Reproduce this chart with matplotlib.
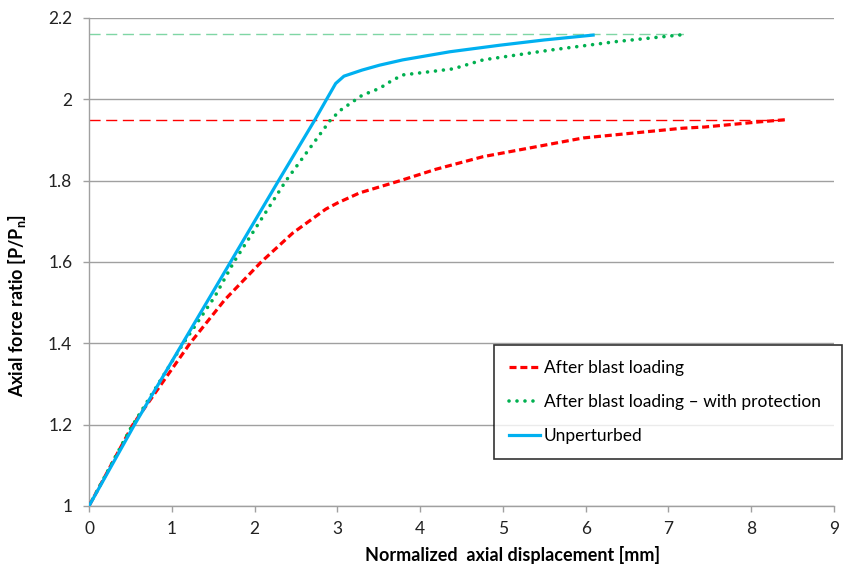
import matplotlib
matplotlib.use('Agg')
import matplotlib.pyplot as plt

# series
red_x = [0, 0.53, 1.22, 1.64, 2.08, 2.46, 2.86, 3.0, 3.27, 3.76, 4.19, 4.76, 5.97, 7.17, 7.44, 8.12, 8.42]
red_y = [1, 1.20, 1.40, 1.507, 1.60, 1.671, 1.730, 1.745, 1.770, 1.80, 1.828, 1.859, 1.905, 1.929, 1.932, 1.945, 1.95]

green_x = [0, 0.5, 1.14, 1.52, 1.75, 2.38, 2.92, 3.05, 3.30, 3.51, 3.65, 3.79, 4.04, 4.4, 4.76, 5.57, 6.37, 7.22]
green_y = [1, 1.19, 1.40, 1.515, 1.60, 1.80, 1.95, 1.975, 2.01, 2.027, 2.045, 2.06, 2.066, 2.075, 2.097, 2.121, 2.142, 2.16]

blue_x = [0, 0.55, 1.13, 1.71, 2.29, 2.73, 2.87, 2.98, 3.08, 3.3, 3.51, 3.79, 4.36, 4.96, 5.5, 6.09]
blue_y = [1, 1.20, 1.40, 1.60, 1.80, 1.95, 2.0, 2.039, 2.057, 2.072, 2.084, 2.097, 2.117, 2.133, 2.146, 2.158]

labels = ['After blast loading', 'After blast loading \u2013 with protection', 'Unperturbed']

plt.rcParams['font.family'] = ['Lato', 'DejaVu Sans']
plt.rcParams['mathtext.fontset'] = 'custom'
plt.rcParams['mathtext.bf'] = 'Lato:bold'
plt.rcParams['mathtext.rm'] = 'Lato'

fig = plt.figure(figsize=(8.46, 5.70), dpi=100)
ax = fig.add_axes([89/846, 64/570, 745/846, 488/570])

# reference lines at the peak of two curves
ax.plot([0, green_x[-1]], [green_y[-1], green_y[-1]], color='#7FD6A4', lw=1.0,
        dashes=(8, 4), zorder=2)
ax.plot([0, red_x[-1]], [red_y[-1], red_y[-1]], color='#FF0000', lw=1.0,
        dashes=(8, 4), zorder=2)

ax.plot(red_x, red_y, color='#FF0000', lw=2.3, dashes=(2.2, 1.2),
        solid_joinstyle='round', label=labels[0], zorder=3)
ax.plot(green_x, green_y, color='#00B050', lw=2.6, linestyle=(0, (0.01, 2.2)),
        dash_capstyle='round', label=labels[1], zorder=3)
ax.plot(blue_x, blue_y, color='#00B0F0', lw=2.3, solid_joinstyle='round',
        label=labels[2], zorder=4)

ax.set_xlim(0, 9)
ax.set_ylim(1, 2.2)
ax.set_xticks(range(0, 10))
ax.set_yticks([1, 1.2, 1.4, 1.6, 1.8, 2, 2.2])
ax.set_yticklabels(['1', '1.2', '1.4', '1.6', '1.8', '2', '2.2'])
ax.grid(axis='y', color='#A0A0A0', lw=1.0)
ax.set_axisbelow(True)

for s in ['top', 'right']:
    ax.spines[s].set_visible(False)
for s in ['left', 'bottom']:
    ax.spines[s].set_color('#A0A0A0')
    ax.spines[s].set_linewidth(1.0)
ax.tick_params(axis='both', colors='#A0A0A0', length=4, width=1, labelsize=12.5,
               labelcolor='#222222')
ax.tick_params(axis='x', pad=7)
ax.tick_params(axis='y', pad=8)

ax.set_xlabel('Normalized  axial displacement [mm]', fontsize=13, fontweight='bold')
ax.xaxis.set_label_coords(0.568, -0.081)
ax.set_ylabel(r'Axial force ratio [P/P$_\mathbf{n}$]', fontsize=13, fontweight='bold')
ax.yaxis.set_label_coords(-0.082, 0.41)

leg = ax.legend(loc='lower left', bbox_to_anchor=(0.544, 0.096, 0.467, 0.227),
                mode='expand', fontsize=12.5, frameon=True, fancybox=False,
                handlelength=1.8, handletextpad=0.2, labelspacing=1.05,
                borderpad=0.85, borderaxespad=0)
leg.get_frame().set_edgecolor('black')
leg.get_frame().set_linewidth(1.2)

fig.savefig('out.png', dpi=100)
